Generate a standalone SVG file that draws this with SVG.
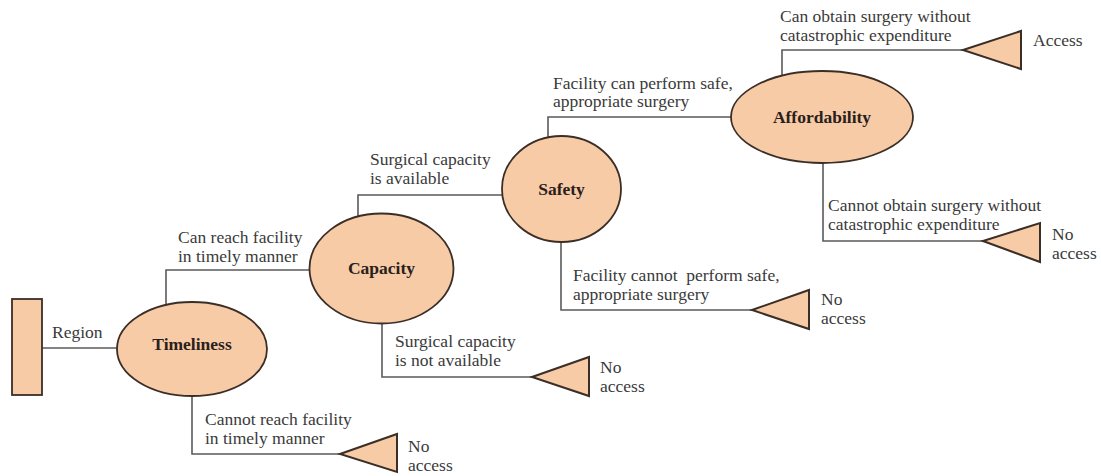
<svg xmlns="http://www.w3.org/2000/svg" width="1101" height="476" viewBox="0 0 1101 476">
<style>
.bg{fill:#ffffff}
.line{fill:none;stroke:#5a5a5a;stroke-width:1.6}
.node{fill:#F8CBA7;stroke:#3b2e27;stroke-width:1.8}
.tri{fill:#F8CBA7;stroke:#3b2e27;stroke-width:2;stroke-linejoin:miter}
.lbl{font-family:"Liberation Serif","Times New Roman",serif;font-size:17.5px;fill:#3a3a3a}
.title{font-family:"Liberation Serif","Times New Roman",serif;font-size:17.5px;font-weight:bold;fill:#2a201b;text-anchor:middle}
</style>
<rect class="bg" x="0" y="0" width="1101" height="476"/>
<g id="connectors">
  <path class="line" d="M42,348 H120"/>
  <path class="line" d="M166,310 V270 H312"/>
  <path class="line" d="M192,392 V454 H340"/>
  <path class="line" d="M358,220 V195 H505"/>
  <path class="line" d="M382,320 V377 H532"/>
  <path class="line" d="M548,140 V117 H734"/>
  <path class="line" d="M561,238 V310 H752"/>
  <path class="line" d="M782,80 V50 H963"/>
  <path class="line" d="M823,160 V241 H983"/>
</g>
<g id="labels">
  <text class="lbl" x="52" y="338">Region</text>
  <text class="lbl" x="178" y="243">Can reach facility</text>
  <text class="lbl" x="178" y="262">in timely manner</text>
  <text class="lbl" x="205" y="425">Cannot reach facility</text>
  <text class="lbl" x="205" y="444">in timely manner</text>
  <text class="lbl" x="370" y="165">Surgical capacity</text>
  <text class="lbl" x="370" y="184">is available</text>
  <text class="lbl" x="395" y="347">Surgical capacity</text>
  <text class="lbl" x="395" y="366">is not available</text>
  <text class="lbl" x="553" y="89">Facility can perform safe,</text>
  <text class="lbl" x="553" y="107">appropriate surgery</text>
  <text class="lbl" x="573" y="281" xml:space="preserve">Facility cannot  perform safe,</text>
  <text class="lbl" x="573" y="300">appropriate surgery</text>
  <text class="lbl" x="780" y="22">Can obtain surgery without</text>
  <text class="lbl" x="780" y="41">catastrophic expenditure</text>
  <text class="lbl" x="828" y="211">Cannot obtain surgery without</text>
  <text class="lbl" x="828" y="230">catastrophic expenditure</text>
</g>
<g id="region">
  <rect class="node" x="12" y="299" width="30" height="96"/>
</g>
<g id="timeliness">
  <ellipse class="node" cx="192" cy="349" rx="75" ry="47"/>
  <text class="title" x="192" y="350">Timeliness</text>
</g>
<g id="capacity">
  <ellipse class="node" cx="381.5" cy="268.5" rx="72" ry="55"/>
  <text class="title" x="381.5" y="274">Capacity</text>
</g>
<g id="safety">
  <ellipse class="node" cx="561.5" cy="189" rx="59.5" ry="53"/>
  <text class="title" x="561.5" y="195">Safety</text>
</g>
<g id="affordability">
  <ellipse class="node" cx="822" cy="117" rx="91" ry="46"/>
  <text class="title" x="822" y="123">Affordability</text>
</g>
<g id="outcome-timeliness">
  <polygon class="tri" points="340,454 397,434 397,472"/>
  <text class="lbl" x="408" y="452">No</text>
  <text class="lbl" x="408" y="471">access</text>
</g>
<g id="outcome-capacity">
  <polygon class="tri" points="532,377 589,357 589,396"/>
  <text class="lbl" x="600" y="373">No</text>
  <text class="lbl" x="600" y="392">access</text>
</g>
<g id="outcome-safety">
  <polygon class="tri" points="752,310 809,290 809,329"/>
  <text class="lbl" x="821" y="305">No</text>
  <text class="lbl" x="821" y="324">access</text>
</g>
<g id="outcome-affordability-no">
  <polygon class="tri" points="983,241 1040,223 1040,262"/>
  <text class="lbl" x="1052" y="240">No</text>
  <text class="lbl" x="1052" y="259">access</text>
</g>
<g id="outcome-access">
  <polygon class="tri" points="963,50 1021,31 1021,69"/>
  <text class="lbl" x="1033" y="46">Access</text>
</g>
</svg>
